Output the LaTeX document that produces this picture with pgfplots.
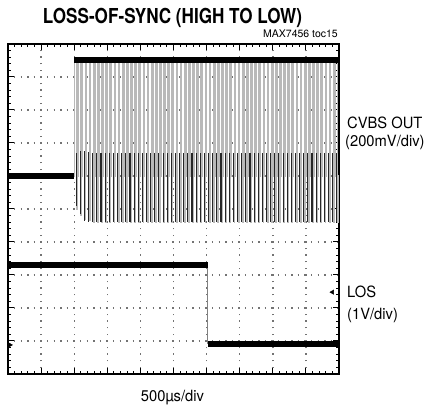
\documentclass[border=0pt]{standalone}
\usepackage{pgfplots}
\pgfplotsset{compat=1.18}
\usepackage{graphicx}
\usepackage{fontspec}
\setmainfont{TeX Gyre Heros}
\newcommand\lbl[1]{\fontsize{15.5bp}{17bp}\selectfont\scalebox{0.95}[1]{#1}}
\begin{document}
\begin{tikzpicture}
\useasboundingbox (0,0) rectangle (427bp,408bp);
\node[anchor=base] at (172.5bp,384bp) {\fontsize{20.6bp}{22bp}\selectfont\bfseries\scalebox{0.83}[1]{LOSS-OF-SYNC (HIGH TO LOW)}};
\node[anchor=base east, inner sep=0pt] at (338bp,370bp) {\fontsize{10.5bp}{12bp}\selectfont MAX7456 toc15};
\node[anchor=base west, inner sep=0pt] at (347bp,279bp) {\lbl{CVBS OUT}};
\node[anchor=base west, inner sep=0pt] at (345bp,261bp) {\lbl{(200mV/div)}};
\node[anchor=base west, inner sep=0pt] at (347bp,110bp) {\lbl{LOS}};
\node[anchor=base west, inner sep=0pt] at (347bp,88bp) {\lbl{(1V/div)}};
\node[anchor=base, inner sep=0pt] at (172.5bp,7bp) {\lbl{500µs/div}};
\begin{axis}[
  at={(8bp,34bp)}, anchor=south west, scale only axis,
  width=331bp, height=330bp,
  xmin=0, xmax=10, ymin=0, ymax=10,
  xtick={0,1,...,10}, ytick={0,1,...,10},
  minor x tick num=4, minor y tick num=4,
  xticklabels={}, yticklabels={},
  tick align=inside,
  major tick length=6bp, minor tick length=3.5bp,
  every tick/.style={black, line width=1bp},
  axis line style={black, line width=1.8bp},
  grid=major,
  major grid style={black!55, line width=1.4bp, dash pattern=on 1.4bp off 5.2bp, dash phase=0.7bp},
]
% CVBS before loss of sync
\addplot[black, line width=5.5bp] coordinates {(0,6.0) (2.0,6.0)};
% CVBS video lines
\addplot[gray!55, line width=1.4bp, const plot] coordinates {
(1.99,6)
(2.000,9.5)(2.085,5.0)(2.100,6)
(2.125,9.5)(2.210,4.8)(2.225,6)
(2.250,9.5)(2.335,4.7)(2.350,6)
(2.375,9.5)(2.460,4.65)(2.475,6)
(2.500,9.5)(2.585,4.6)(2.600,6)
(2.625,9.5)(2.710,4.6)(2.725,6)
(2.750,9.5)(2.835,4.6)(2.850,6)
(2.875,9.5)(2.960,4.6)(2.975,6)
(3.000,9.5)(3.085,4.6)(3.100,6)
(3.125,9.5)(3.210,4.6)(3.225,6)
(3.250,9.5)(3.335,4.6)(3.350,6)
(3.375,9.5)(3.460,4.6)(3.475,6)
(3.500,9.5)(3.585,4.6)(3.600,6)
(3.625,9.5)(3.710,4.6)(3.725,6)
(3.750,9.5)(3.835,4.6)(3.850,6)
(3.875,9.5)(3.960,4.6)(3.975,6)
(4.000,9.5)(4.085,4.6)(4.100,6)
(4.125,9.5)(4.210,4.6)(4.225,6)
(4.250,9.5)(4.335,4.6)(4.350,6)
(4.375,9.5)(4.460,4.6)(4.475,6)
(4.500,9.5)(4.585,4.6)(4.600,6)
(4.625,9.5)(4.710,4.6)(4.725,6)
(4.750,9.5)(4.835,4.6)(4.850,6)
(4.875,9.5)(4.960,4.6)(4.975,6)
(5.000,9.5)(5.085,4.6)(5.100,6)
(5.125,9.5)(5.210,4.6)(5.225,6)
(5.250,9.5)(5.335,4.6)(5.350,6)
(5.375,9.5)(5.460,4.6)(5.475,6)
(5.500,9.5)(5.585,4.6)(5.600,6)
(5.625,9.5)(5.710,4.6)(5.725,6)
(5.750,9.5)(5.835,4.6)(5.850,6)
(5.875,9.5)(5.960,4.6)(5.975,6)
(6.000,9.5)(6.085,4.6)(6.100,6)
(6.125,9.5)(6.210,4.6)(6.225,6)
(6.250,9.5)(6.335,4.6)(6.350,6)
(6.375,9.5)(6.460,4.6)(6.475,6)
(6.500,9.5)(6.585,4.6)(6.600,6)
(6.625,9.5)(6.710,4.6)(6.725,6)
(6.750,9.5)(6.835,4.6)(6.850,6)
(6.875,9.5)(6.960,4.6)(6.975,6)
(7.000,9.5)(7.085,4.6)(7.100,6)
(7.125,9.5)(7.210,4.6)(7.225,6)
(7.250,9.5)(7.335,4.6)(7.350,6)
(7.375,9.5)(7.460,4.6)(7.475,6)
(7.500,9.5)(7.585,4.6)(7.600,6)
(7.625,9.5)(7.710,4.6)(7.725,6)
(7.750,9.5)(7.835,4.6)(7.850,6)
(7.875,9.5)(7.960,4.6)(7.975,6)
(8.000,9.5)(8.085,4.6)(8.100,6)
(8.125,9.5)(8.210,4.6)(8.225,6)
(8.250,9.5)(8.335,4.6)(8.350,6)
(8.375,9.5)(8.460,4.6)(8.475,6)
(8.500,9.5)(8.585,4.6)(8.600,6)
(8.625,9.5)(8.710,4.6)(8.725,6)
(8.750,9.5)(8.835,4.6)(8.850,6)
(8.875,9.5)(8.960,4.6)(8.975,6)
(9.000,9.5)(9.085,4.6)(9.100,6)
(9.125,9.5)(9.210,4.6)(9.225,6)
(9.250,9.5)(9.335,4.6)(9.350,6)
(9.375,9.5)(9.460,4.6)(9.475,6)
(9.500,9.5)(9.585,4.6)(9.600,6)
(9.625,9.5)(9.710,4.6)(9.725,6)
(9.750,9.5)(9.835,4.6)(9.850,6)
(9.875,9.5)(9.960,4.6)(9.975,6)
(10.0,6)
};
% darker lower part of each video line (sync / blanking region)
\addplot[draw=none, mark=none, error bars/.cd, y dir=both, y explicit, error mark=none,
  error bar style={draw=black!85, line width=1.1bp}] coordinates {
(2.060,5.90) +- (0,0.80) (2.185,5.80) +- (0,0.95) (2.310,5.70) +- (0,1.05) (2.435,5.67) +- (0,1.07)
(2.560,5.65) +- (0,1.05) (2.685,5.65) +- (0,1.05) (2.810,5.65) +- (0,1.05) (2.935,5.65) +- (0,1.05)
(3.060,5.65) +- (0,1.05) (3.185,5.65) +- (0,1.05) (3.310,5.65) +- (0,1.05) (3.435,5.65) +- (0,1.05)
(3.560,5.65) +- (0,1.05) (3.685,5.65) +- (0,1.05) (3.810,5.65) +- (0,1.05) (3.935,5.65) +- (0,1.05)
(4.060,5.65) +- (0,1.05) (4.185,5.65) +- (0,1.05) (4.310,5.65) +- (0,1.05) (4.435,5.65) +- (0,1.05)
(4.560,5.65) +- (0,1.05) (4.685,5.65) +- (0,1.05) (4.810,5.65) +- (0,1.05) (4.935,5.65) +- (0,1.05)
(5.060,5.65) +- (0,1.05) (5.185,5.65) +- (0,1.05) (5.310,5.65) +- (0,1.05) (5.435,5.65) +- (0,1.05)
(5.560,5.65) +- (0,1.05) (5.685,5.65) +- (0,1.05) (5.810,5.65) +- (0,1.05) (5.935,5.65) +- (0,1.05)
(6.060,5.65) +- (0,1.05) (6.185,5.65) +- (0,1.05) (6.310,5.65) +- (0,1.05) (6.435,5.65) +- (0,1.05)
(6.560,5.65) +- (0,1.05) (6.685,5.65) +- (0,1.05) (6.810,5.65) +- (0,1.05) (6.935,5.65) +- (0,1.05)
(7.060,5.65) +- (0,1.05) (7.185,5.65) +- (0,1.05) (7.310,5.65) +- (0,1.05) (7.435,5.65) +- (0,1.05)
(7.560,5.65) +- (0,1.05) (7.685,5.65) +- (0,1.05) (7.810,5.65) +- (0,1.05) (7.935,5.65) +- (0,1.05)
(8.060,5.65) +- (0,1.05) (8.185,5.65) +- (0,1.05) (8.310,5.65) +- (0,1.05) (8.435,5.65) +- (0,1.05)
(8.560,5.65) +- (0,1.05) (8.685,5.65) +- (0,1.05) (8.810,5.65) +- (0,1.05) (8.935,5.65) +- (0,1.05)
(9.060,5.65) +- (0,1.05) (9.185,5.65) +- (0,1.05) (9.310,5.65) +- (0,1.05) (9.435,5.65) +- (0,1.05)
(9.560,5.65) +- (0,1.05) (9.685,5.65) +- (0,1.05) (9.810,5.65) +- (0,1.05) (9.935,5.65) +- (0,1.05)
};
% white level band
\addplot[black, line width=6bp] coordinates {(2.0,9.5) (10,9.5)};
% LOS
\addplot[gray, line width=0.8bp] coordinates {(6.03,3.3) (6.03,0.92)};
\addplot[black, line width=6bp] coordinates {(0,3.3) (6.03,3.3)};
\addplot[black, line width=6bp] coordinates {(6.03,0.92) (10,0.92)};
% channel markers
\addplot[only marks, mark=triangle*, mark size=2.5bp, mark options={rotate=-90, black}] coordinates {(0.06,0.88)};
\addplot[only marks, mark=triangle*, mark size=2.5bp, mark options={rotate=90, black}] coordinates {(9.8,2.48)};
\end{axis}
\end{tikzpicture}
\end{document}
